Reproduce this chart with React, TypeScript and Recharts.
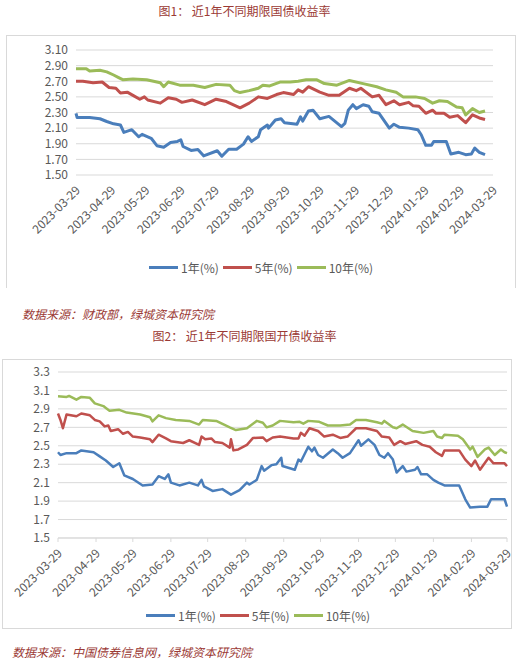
import { CartesianGrid, Line, LineChart, XAxis, YAxis } from 'recharts'

const FONT = "'Microsoft YaHei','Noto Sans CJK SC',sans-serif"
const TEXT = '#595959'
const GRID = '#d9d9d9'
const RED_TEXT = '#9b3a35'

// day offsets from 2023-03-29 and the labels shown on the x axis
const tickDays = [0, 31, 61, 92, 122, 153, 184, 214, 245, 275, 306, 337, 366]
const tickDates = [
    '2023-03-29', '2023-04-29', '2023-05-29', '2023-06-29', '2023-07-29', '2023-08-29', '2023-09-29',
    '2023-10-29', '2023-11-29', '2023-12-29', '2024-01-29', '2024-02-29', '2024-03-29',
]

const seriesNames = ['1年(%)', '5年(%)', '10年(%)']
const seriesColors = ['#4a7ebb', '#c0504d', '#9bbb59']

// 图1 国债 [day, yield]
const gz1y = [
    [0, 2.29], [1, 2.235], [12, 2.235], [21, 2.22], [27, 2.185], [33, 2.155], [39, 2.14], [42, 2.045], [49, 2.08],
    [55, 1.99], [58, 2.02], [66, 1.97], [71, 1.875], [77, 1.855], [83, 1.915], [89, 1.93], [92, 1.95], [94, 1.865],
    [101, 1.815], [107, 1.825], [112, 1.745], [124, 1.81], [128, 1.74], [134, 1.83], [141, 1.83], [147, 1.895],
    [151, 1.99], [154, 1.93], [160, 1.99], [162, 2.08], [168, 2.14], [169, 2.1], [175, 2.205], [180, 2.22],
    [183, 2.17], [194, 2.15], [197, 2.245], [199, 2.19], [204, 2.32], [208, 2.33], [214, 2.22], [222, 2.25],
    [233, 2.12], [236, 2.16], [239, 2.33], [243, 2.4], [246, 2.35], [252, 2.4], [257, 2.38], [260, 2.31],
    [266, 2.29], [275, 2.1], [279, 2.15], [284, 2.11], [292, 2.1], [300, 2.08], [303, 2.015], [307, 1.88],
    [312, 1.88], [314, 1.93], [325, 1.93], [329, 1.77], [336, 1.79], [342, 1.76], [347, 1.77], [350, 1.845],
    [354, 1.79], [359, 1.76],
]
const gz5y = [
    [0, 2.7], [6, 2.7], [15, 2.68], [23, 2.69], [29, 2.62], [35, 2.61], [39, 2.55], [45, 2.56], [50, 2.52],
    [56, 2.47], [60, 2.5], [63, 2.46], [74, 2.42], [81, 2.49], [88, 2.47], [93, 2.43], [102, 2.46], [113, 2.4],
    [123, 2.47], [132, 2.44], [144, 2.36], [152, 2.42], [160, 2.5], [168, 2.48], [176, 2.53], [182, 2.555],
    [191, 2.53], [195, 2.59], [199, 2.56], [204, 2.63], [214, 2.56], [222, 2.52], [231, 2.52], [240, 2.61],
    [246, 2.58], [250, 2.61], [260, 2.5], [266, 2.52], [272, 2.4], [279, 2.45], [284, 2.4], [292, 2.43],
    [296, 2.385], [301, 2.38], [307, 2.29], [313, 2.33], [316, 2.29], [323, 2.29], [328, 2.24], [335, 2.26],
    [342, 2.17], [348, 2.27], [354, 2.23], [359, 2.21],
]
const gz10y = [
    [0, 2.86], [9, 2.86], [12, 2.83], [21, 2.84], [27, 2.82], [33, 2.78], [37, 2.75], [41, 2.72], [50, 2.73],
    [62, 2.72], [74, 2.68], [77, 2.63], [81, 2.69], [91, 2.65], [103, 2.65], [113, 2.62], [123, 2.66], [135, 2.65],
    [139, 2.58], [144, 2.555], [152, 2.58], [160, 2.61], [164, 2.65], [170, 2.64], [179, 2.69], [188, 2.69],
    [195, 2.7], [202, 2.72], [211, 2.72], [218, 2.67], [229, 2.65], [240, 2.71], [252, 2.67], [264, 2.63],
    [272, 2.59], [281, 2.56], [287, 2.5], [298, 2.5], [306, 2.48], [313, 2.42], [319, 2.45], [326, 2.44],
    [334, 2.37], [339, 2.36], [342, 2.27], [348, 2.35], [354, 2.3], [359, 2.32],
]

// 图2 国开债 [day, yield]
const gk1y = [
    [0, 2.43], [2, 2.4], [7, 2.42], [15, 2.42], [19, 2.45], [29, 2.43], [34, 2.385], [39, 2.34], [45, 2.27],
    [50, 2.31], [54, 2.18], [61, 2.14], [69, 2.07], [77, 2.08], [82, 2.17], [87, 2.14], [90, 2.19], [92, 2.1],
    [99, 2.07], [107, 2.1], [114, 2.07], [117, 2.13], [119, 2.06], [126, 2.01], [134, 2.03], [141, 1.97],
    [148, 2.02], [154, 2.1], [156, 2.08], [162, 2.13], [166, 2.28], [168, 2.23], [174, 2.29], [178, 2.3],
    [182, 2.37], [183, 2.28], [193, 2.24], [196, 2.35], [198, 2.33], [204, 2.49], [207, 2.44], [209, 2.48],
    [212, 2.4], [216, 2.37], [224, 2.46], [228, 2.42], [232, 2.37], [238, 2.42], [245, 2.56], [247, 2.5],
    [253, 2.57], [258, 2.51], [262, 2.4], [266, 2.37], [269, 2.42], [273, 2.35], [276, 2.21], [281, 2.28],
    [284, 2.22], [291, 2.24], [293, 2.27], [296, 2.19], [301, 2.19], [306, 2.13], [310, 2.1], [315, 2.07],
    [327, 2.07], [332, 1.92], [336, 1.83], [344, 1.84], [350, 1.84], [353, 1.92], [364, 1.92], [366, 1.84],
]
const gk5y = [
    [0, 2.85], [2, 2.78], [4, 2.69], [7, 2.84], [15, 2.82], [19, 2.85], [26, 2.83], [30, 2.78], [34, 2.765],
    [38, 2.71], [41, 2.72], [43, 2.66], [49, 2.68], [53, 2.63], [57, 2.65], [61, 2.6], [67, 2.59], [75, 2.57],
    [77, 2.54], [82, 2.62], [88, 2.58], [92, 2.55], [102, 2.53], [107, 2.56], [115, 2.51], [117, 2.6], [120, 2.57],
    [125, 2.58], [128, 2.54], [134, 2.53], [140, 2.48], [141, 2.57], [143, 2.45], [147, 2.46], [154, 2.51],
    [159, 2.585], [167, 2.59], [170, 2.55], [175, 2.59], [181, 2.6], [192, 2.58], [196, 2.58], [198, 2.64],
    [201, 2.61], [205, 2.69], [212, 2.66], [217, 2.6], [224, 2.62], [230, 2.585], [236, 2.6], [243, 2.69],
    [251, 2.69], [260, 2.66], [264, 2.6], [270, 2.59], [274, 2.51], [279, 2.55], [283, 2.52], [292, 2.55],
    [297, 2.51], [303, 2.49], [308, 2.43], [313, 2.39], [315, 2.45], [327, 2.45], [332, 2.35], [337, 2.28],
    [340, 2.34], [344, 2.24], [351, 2.37], [355, 2.31], [364, 2.31], [366, 2.28],
]
const gk10y = [
    [0, 3.036], [7, 3.03], [9, 3.04], [15, 3.0], [19, 3.03], [26, 3.02], [30, 2.96], [37, 2.93], [39, 2.91],
    [42, 2.88], [50, 2.89], [56, 2.86], [67, 2.84], [75, 2.81], [77, 2.765], [82, 2.83], [88, 2.8], [96, 2.78],
    [107, 2.77], [115, 2.73], [118, 2.78], [129, 2.77], [140, 2.7], [145, 2.67], [154, 2.69], [162, 2.77],
    [167, 2.75], [170, 2.7], [175, 2.72], [181, 2.77], [192, 2.755], [197, 2.76], [200, 2.74], [204, 2.77],
    [213, 2.76], [220, 2.72], [230, 2.72], [238, 2.73], [243, 2.78], [251, 2.78], [260, 2.755], [264, 2.74],
    [266, 2.77], [273, 2.7], [276, 2.69], [281, 2.73], [289, 2.66], [298, 2.64], [306, 2.66], [309, 2.6],
    [313, 2.585], [315, 2.62], [326, 2.61], [330, 2.57], [336, 2.46], [338, 2.49], [342, 2.38], [348, 2.46],
    [351, 2.48], [356, 2.4], [361, 2.46], [364, 2.43], [366, 2.42],
]

const yTicks1 = [1.5, 1.7, 1.9, 2.1, 2.3, 2.5, 2.7, 2.9, 3.1]
const yTicks2 = [1.5, 1.7, 1.9, 2.1, 2.3, 2.5, 2.7, 2.9, 3.1, 3.3]

const toPoints = (pairs: number[][]) => pairs.map(([d, v]) => ({ d, v }))

const DateTick = (props: any) => {
    const { x, y, payload, offX, offY } = props
    const label = tickDates[tickDays.indexOf(payload.value)]
    const tx = x + offX
    const ty = y + offY
    return (
        <text x={tx} y={ty} transform={`rotate(-45 ${tx} ${ty})`} textAnchor="end" fontSize={12} fill={TEXT} fontFamily={FONT}>
            {label}
        </text>
    )
}

type BondChartProps = {
    series: number[][][]
    yTicks: number[]
    digits: number
    width: number
    height: number
    margin: { top: number; right: number; left: number; bottom: number }
    yWidth: number
    xHeight: number
    showAxis: boolean
    strokeWidth: number
}

function BondChart({ series, yTicks, digits, width, height, margin, yWidth, xHeight, showAxis, strokeWidth }: BondChartProps) {
    return (
        <LineChart width={width} height={height} margin={margin}>
            <CartesianGrid vertical={false} stroke={GRID} />
            <XAxis
                type="number"
                dataKey="d"
                domain={[0, 366]}
                ticks={tickDays}
                height={xHeight}
                interval={0}
                axisLine={showAxis ? { stroke: GRID } : false}
                tickLine={showAxis ? { stroke: GRID } : false}
                tickSize={4}
                tick={<DateTick offX={5} offY={10} />}
            />
            <YAxis
                type="number"
                domain={[yTicks[0], yTicks[yTicks.length - 1]]}
                ticks={yTicks}
                interval={0}
                width={yWidth}
                axisLine={false}
                tickLine={false}
                tickFormatter={(v: number) => v.toFixed(digits)}
                tick={{ fill: TEXT, fontSize: 12, fontFamily: FONT }}
            />
            {series.map((s, i) => (
                <Line
                    key={seriesNames[i]}
                    data={toPoints(s)}
                    dataKey="v"
                    name={seriesNames[i]}
                    type="linear"
                    stroke={seriesColors[i]}
                    strokeWidth={strokeWidth}
                    strokeLinejoin="round"
                    dot={false}
                    activeDot={false}
                    isAnimationActive={false}
                />
            ))}
        </LineChart>
    )
}

function LegendRow({ left, top }: { left: number; top: number }) {
    return (
        <div style={{ position: 'absolute', left, top, display: 'flex', alignItems: 'center', fontFamily: FONT, fontSize: 12, color: TEXT, whiteSpace: 'nowrap' }}>
            {seriesNames.map((n, i) => (
                <div key={n} style={{ display: 'flex', alignItems: 'center', marginRight: 4 }}>
                    <span style={{ display: 'inline-block', width: 29, height: 3, background: seriesColors[i], marginRight: 3 }} />
                    <span>{n}</span>
                </div>
            ))}
        </div>
    )
}

const titleStyle = (top: number): React.CSSProperties => ({
    position: 'absolute', left: 0, width: 489, top, textAlign: 'center', fontFamily: FONT, fontSize: 12, color: RED_TEXT, lineHeight: '16px',
})
const sourceStyle = (left: number, top: number): React.CSSProperties => ({
    position: 'absolute', left, top, fontFamily: FONT, fontSize: 12, fontStyle: 'italic', color: RED_TEXT, lineHeight: '16px', whiteSpace: 'nowrap',
})

export default function App() {
    return (
        <div style={{ position: 'absolute', left: 0, top: 0, width: 519, height: 659, background: '#fff', overflow: 'hidden' }}>
            <div style={titleStyle(3)}>图1： 近1年不同期限国债收益率</div>
            <div style={{ position: 'absolute', left: 6, top: 35, width: 508, height: 252, borderLeft: `1px solid ${GRID}`, borderTop: `1px solid ${GRID}`, borderRight: `1px solid ${GRID}` }} />
            <div style={{ position: 'absolute', left: 7, top: 35 }}>
                <BondChart
                    series={[gz1y, gz5y, gz10y]}
                    yTicks={yTicks1}
                    digits={2}
                    width={508}
                    height={252}
                    margin={{ top: 15, right: 22, left: 0, bottom: 42 }}
                    yWidth={69}
                    xHeight={70}
                    showAxis={false}
                    strokeWidth={3}
                />
            </div>
            <LegendRow left={149} top={259} />
            <div style={sourceStyle(22, 306)}>数据来源：财政部，绿城资本研究院</div>

            <div style={titleStyle(328)}>图2： 近1年不同期限国开债收益率</div>
            <div style={{ position: 'absolute', left: 2, top: 359, width: 508, height: 268, border: `1px solid ${GRID}` }} />
            <div style={{ position: 'absolute', left: 3, top: 359 }}>
                <BondChart
                    series={[gk1y, gk5y, gk10y]}
                    yTicks={yTicks2}
                    digits={1}
                    width={508}
                    height={269}
                    margin={{ top: 13, right: 4, left: 0, bottom: 30 }}
                    yWidth={55}
                    xHeight={60}
                    showAxis={true}
                    strokeWidth={2.5}
                />
            </div>
            <LegendRow left={146} top={607} />
            <div style={sourceStyle(12, 644)}>数据来源：中国债券信息网，绿城资本研究院</div>
        </div>
    )
}
